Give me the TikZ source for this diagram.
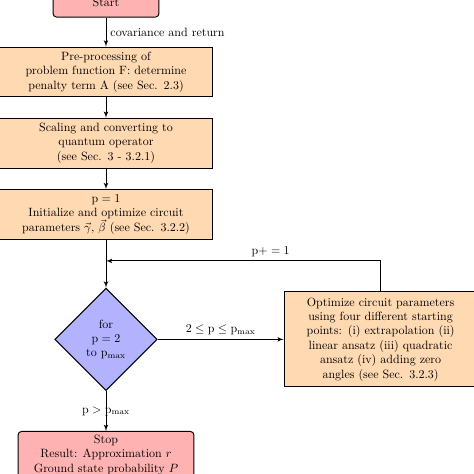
\documentclass[tikz,border=0pt]{standalone}
\usepackage{tikz}
\usetikzlibrary{arrows,positioning,shapes.geometric,calc}

\begin{document}
\begin{tikzpicture}[node distance=0.6cm]
\tikzset{
    %czubek strzalki
    >=latex',
    %styl startu i stopu
    granica/.style={
           rectangle, rounded corners=1mm,
           inner sep=3pt,
           thick,draw=black,
           fill=red!30,
           minimum height=0.88cm,
           align=center},
    %styl bloku
    blok/.style={
           rectangle,
           inner sep=3.5pt,
           thick,draw=black,
           fill=orange!30,
           text width=6cm,
           minimum height=1.46cm,
           align=center},
    %styl rombu
    romb/.style={
           diamond, aspect=1,
           inner sep=0pt,
           thick,draw=black,
           fill=blue!30,
           minimum width=3cm,
           minimum height=3cm,
           align=center},
    %styl strzalki
    linia/.style={->,thick}
}
\useasboundingbox (-3.105,0.0586) rectangle (10.78,-13.82);
%NODy
\node(start)     [granica,minimum width=3.1cm]             at (0,0) {Start};
\node(prep)      [blok,below=0.85cm of start]   {Pre-processing of\\problem function F: determine\\penalty term A (see Sec. 2.3)};
\node(scal)      [blok,below=of prep]           {Scaling and converting to\\quantum operator\\(see Sec. 3 - 3.2.1)};
\node(init)      [blok,below=of scal]           {\mbox{$\mathrm{p}=1$}\\Initialize and optimize circuit\\parameters $\vec{\gamma}$, $\vec{\beta}$ (see Sec. 3.2.2)};
\node(petla)     [romb,below=1.4cm of init]     {for\\$\mathrm{p}=2$\\to $\mathrm{p}_{\mathrm{max}}$};
\node(opt)       [blok,right=3.69cm of petla,text width=5.4cm,minimum width=5.65cm,minimum height=2.78cm]
                 {Optimize circuit parameters\\using four different starting\\points: (i) extrapolation (ii)\\linear ansatz (iii) quadratic\\ansatz (iv) adding zero\\angles (see Sec. 3.2.3)};
\node(stop)      [granica,below=1.17cm of petla,minimum width=5.15cm]
                 {Stop\\Result: Approximation $r$\\Ground state probability $P$};
\coordinate[below=0.615cm of init] (powrot);

%Strzalki
\draw[linia] (start) -- node[right]{covariance and return} (prep);
\draw[linia] (prep) -- (scal);
\draw[linia] (scal) -- (init);
\draw[linia] (init) -- (petla);
\draw[linia] (petla) -- node[above]{$2 \le \mathrm{p} \le \mathrm{p}_{\mathrm{max}}$} (opt);
\draw[linia] (opt.north) |- node[pos=0.7,above]{$\mathrm{p}+=1$} (powrot);
\draw[linia] (petla) -- node{$\mathrm{p} > \mathrm{p}_{\mathrm{max}}$} (stop);
\end{tikzpicture}
\end{document}
